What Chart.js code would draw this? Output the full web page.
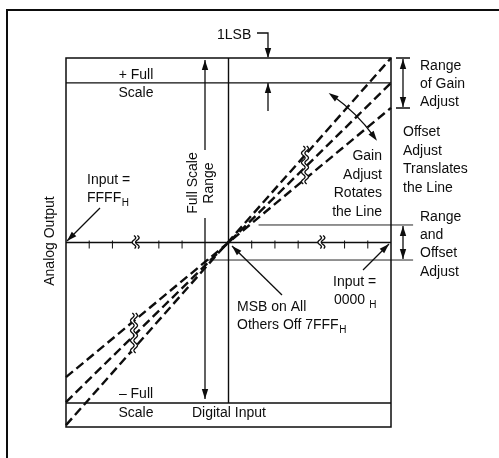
<!DOCTYPE html>
<html>
<head>
<meta charset="utf-8">
<script src="https://cdn.jsdelivr.net/npm/chart.js@4.4.1/dist/chart.umd.min.js"></script>
<style>
  html, body { margin: 0; padding: 0; background: #fff; }
  #wrap { width: 499px; height: 458px; position: relative; }
</style>
</head>
<body>
<div id="wrap"><canvas id="dacChart"></canvas></div>
<script>
// normalized digital input across the plot (left end = FFFF_H, right end = 0000_H)
const inputSpan = [-1, 1];
// analog output at both ends of each transfer line
const maxGainLine = [-0.99, 1.0];
const nominalLine = [-0.865, 0.865];
const minGainLine = [-0.73, 0.73];
// full scale output levels
const plusFullScale = 0.865;
const minusFullScale = -0.87;
// offset adjust band around zero (and where its guide lines run)
const offsetBand = [-0.095, 0.095];
const offsetBandUpperX = [0.185, 1.136];
const offsetBandLowerX = [-0.13, 1.136];
// tick marks on the input axis, in sevenths of half scale
const inputTicks = [-6, -5, -3, -2, 1, 2, 3, 5, 6];
const axisBreaks = [-4, 4];

const INK = "#0d0d0d";
const FONT = "'Liberation Sans', Arial, Helvetica, sans-serif";

function seg(xs, ys) {
    return [{ x: xs[0], y: ys[0] }, { x: xs[1], y: ys[1] }];
}

function lineSet(data, dashed, width) {
    return {
        data: data,
        showLine: true,
        borderColor: INK,
        borderWidth: width,
        borderDash: dashed ? [9, 4.5] : [],
        pointRadius: 0,
        clip: false,
    };
}

// arrow head at (x2, y2) pointing away from (x1, y1)
function head(ctx, x1, y1, x2, y2) {
    const a = Math.atan2(y2 - y1, x2 - x1);
    const len = 10, w = 3.2;
    ctx.beginPath();
    ctx.moveTo(x2, y2);
    ctx.lineTo(x2 - len * Math.cos(a) + w * Math.sin(a), y2 - len * Math.sin(a) - w * Math.cos(a));
    ctx.lineTo(x2 - len * Math.cos(a) - w * Math.sin(a), y2 - len * Math.sin(a) + w * Math.cos(a));
    ctx.closePath();
    ctx.fill();
}

function arrow(ctx, x1, y1, x2, y2, both) {
    ctx.beginPath();
    ctx.moveTo(x1, y1);
    ctx.lineTo(x2, y2);
    ctx.stroke();
    head(ctx, x1, y1, x2, y2);
    if (both) head(ctx, x2, y2, x1, y1);
}

// break mark: two wavy vertical strokes with white between them
function squiggle(ctx, cx, y0, y1, period) {
    const amp = 1.8, gap = 3.4;
    const wave = (y) => amp * Math.sin(((y - y0) / period) * Math.PI * 2);
    ctx.save();
    ctx.fillStyle = "#fff";
    ctx.beginPath();
    for (let y = y0; y <= y1; y += 0.5) ctx.lineTo(cx - gap / 2 + wave(y), y);
    for (let y = y1; y >= y0; y -= 0.5) ctx.lineTo(cx + gap / 2 + wave(y), y);
    ctx.closePath();
    ctx.fill();
    ctx.lineWidth = 1.3;
    [-gap / 2, gap / 2].forEach((off) => {
        ctx.beginPath();
        for (let y = y0; y <= y1; y += 0.5) ctx.lineTo(cx + off + wave(y), y);
        ctx.stroke();
    });
    ctx.restore();
}

function text(ctx, str, x, y, align) {
    ctx.textAlign = align || "left";
    ctx.fillText(str, x, y);
}

// text followed by a subscript H
function textSubH(ctx, str, x, y, spacer) {
    ctx.textAlign = "left";
    ctx.fillText(str, x, y);
    const w = ctx.measureText(str).width;
    ctx.save();
    ctx.font = "10px " + FONT;
    ctx.fillText("H", x + w + (spacer || 0.5), y + 5);
    ctx.restore();
}

const diagramPlugin = {
    id: "diagram",
    afterDatasetsDraw(chart) {
        const ctx = chart.ctx;
        const area = chart.chartArea;
        const xs = chart.scales.x, ys = chart.scales.y;
        const cx = xs.getPixelForValue(0), cy = ys.getPixelForValue(0);

        ctx.save();
        ctx.strokeStyle = INK;
        ctx.fillStyle = INK;

        // outer frame (top and left edges visible)
        ctx.lineWidth = 2;
        ctx.beginPath();
        ctx.moveTo(499, 10);
        ctx.lineTo(7, 10);
        ctx.lineTo(7, 458);
        ctx.stroke();

        // plot box
        ctx.lineWidth = 1.5;
        ctx.strokeRect(area.left, area.top, area.right - area.left, area.bottom - area.top);

        // input axis ticks and breaks
        ctx.lineWidth = 1;
        inputTicks.forEach((k) => {
            const px = xs.getPixelForValue(k / 7);
            ctx.beginPath();
            ctx.moveTo(px, cy - 2);
            ctx.lineTo(px, cy + 6);
            ctx.stroke();
        });
        axisBreaks.forEach((k) => {
            squiggle(ctx, xs.getPixelForValue(k / 7), cy - 7, cy + 6, 9);
        });

        // breaks across the transfer lines
        squiggle(ctx, 305, 146, 184, 9.5);
        squiggle(ctx, 134, 313, 353, 10);

        // 1LSB marker
        ctx.lineWidth = 1.3;
        ctx.beginPath();
        ctx.moveTo(257, 33);
        ctx.lineTo(268, 33);
        ctx.lineTo(268, 57);
        ctx.stroke();
        head(ctx, 268, 40, 268, 58);
        arrow(ctx, 268, 111, 268, 83);

        // full scale range arrow
        arrow(ctx, 205, 150, 205, 60);
        arrow(ctx, 205, 218, 205, 399);

        // range of gain adjust
        ctx.beginPath();
        ctx.moveTo(396, 58); ctx.lineTo(410, 58);
        ctx.moveTo(396, 108); ctx.lineTo(410, 108);
        ctx.stroke();
        arrow(ctx, 403, 59, 403, 107, true);

        // range and offset adjust
        arrow(ctx, 403, ys.getPixelForValue(offsetBand[1]) + 1, 403, ys.getPixelForValue(offsetBand[0]) - 1, true);

        // pointers
        arrow(ctx, 100, 208, 67, 241);
        arrow(ctx, 363, 270, 389, 244);
        arrow(ctx, 282, 295, 232, 246);

        // gain adjust rotates the line: arc about the pivot
        const r = 180;
        const a0 = Math.atan2(94 - cy, 328 - cx), a1 = Math.atan2(140 - cy, 378 - cx);
        ctx.beginPath();
        ctx.arc(cx, cy, r, a0 + 0.03, a1 - 0.03);
        ctx.stroke();
        head(ctx, cx + r * Math.cos(a0 + 0.06), cy + r * Math.sin(a0 + 0.06), cx + r * Math.cos(a0), cy + r * Math.sin(a0));
        head(ctx, cx + r * Math.cos(a1 - 0.06), cy + r * Math.sin(a1 - 0.06), cx + r * Math.cos(a1), cy + r * Math.sin(a1));

        // labels
        ctx.font = "14px " + FONT;
        ctx.textBaseline = "middle";
        text(ctx, "1LSB", 217, 35);
        text(ctx, "+ Full", 136, 75, "center");
        text(ctx, "Scale", 136, 93, "center");
        text(ctx, "\u2013 Full", 136, 394, "center");
        text(ctx, "Scale", 136, 413, "center");
        text(ctx, "Digital Input", 192, 413);

        text(ctx, "Input =", 87, 180);
        textSubH(ctx, "FFFF", 87, 198);
        text(ctx, "Input =", 333, 282);
        textSubH(ctx, "0000", 334, 300, 4);
        text(ctx, "MSB on All", 237, 307);
        textSubH(ctx, "Others Off 7FFF", 237, 325);

        ["Gain", "Adjust", "Rotates", "the Line"].forEach((s, i) => text(ctx, s, 382, 156 + i * 18.7, "right"));
        ["Offset", "Adjust", "Translates", "the Line"].forEach((s, i) => text(ctx, s, 403, 132 + i * 18.7));
        ["Range", "of Gain", "Adjust"].forEach((s, i) => text(ctx, s, 420, 66 + i * 18));
        ["Range", "and", "Offset", "Adjust"].forEach((s, i) => text(ctx, s, 420, 217 + i * 18.3));

        // rotated labels
        ctx.save();
        ctx.translate(50, 241);
        ctx.rotate(-Math.PI / 2);
        text(ctx, "Analog Output", 0, 0, "center");
        ctx.restore();
        ctx.save();
        ctx.translate(201, 183);
        ctx.rotate(-Math.PI / 2);
        text(ctx, "Full Scale", 0, -8, "center");
        text(ctx, "Range", 0, 8, "center");
        ctx.restore();

        ctx.restore();
    },
};

new Chart(document.getElementById("dacChart"), {
    type: "scatter",
    data: {
        datasets: [
            lineSet(seg(inputSpan, maxGainLine), true, 2.4),
            lineSet(seg(inputSpan, nominalLine), true, 2.4),
            lineSet(seg(inputSpan, minGainLine), true, 2.4),
            lineSet(seg(inputSpan, [plusFullScale, plusFullScale]), false, 1.4),
            lineSet(seg(inputSpan, [minusFullScale, minusFullScale]), false, 1.4),
            lineSet(seg(inputSpan, [0, 0]), false, 1.4),
            lineSet(seg([0, 0], [1, minusFullScale]), false, 1.4),
            lineSet(seg(offsetBandUpperX, [offsetBand[1], offsetBand[1]]), false, 0.9),
            lineSet(seg(offsetBandLowerX, [offsetBand[0], offsetBand[0]]), false, 0.9),
        ],
    },
    options: {
        responsive: true,
        maintainAspectRatio: false,
        animation: false,
        layout: { padding: { left: 66, top: 58, right: 108, bottom: 31 } },
        scales: {
            x: { type: "linear", min: -1, max: 1, display: false },
            y: { type: "linear", min: -1, max: 1, display: false },
        },
        plugins: { legend: { display: false }, tooltip: { enabled: false } },
    },
    plugins: [diagramPlugin],
});
</script>
</body>
</html>
